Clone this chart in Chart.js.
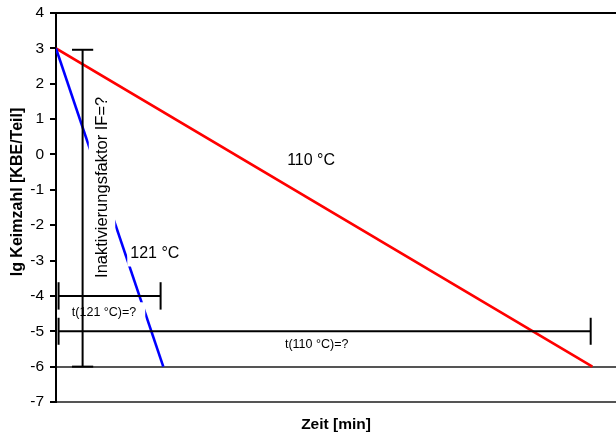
<!DOCTYPE html>
<html>
<head>
<meta charset="utf-8">
<script src="https://cdn.jsdelivr.net/npm/chart.js@4/dist/chart.umd.min.js"></script>
<style>
  html, body { margin: 0; padding: 0; background: #fff; }
  #wrap { width: 616px; height: 436px; }
</style>
</head>
<body>
<div id="wrap"><canvas id="c" width="616" height="436"></canvas></div>
<script>
// Inactivation curves: lg count vs. time
const zeit121 = [0, 10];
const lg121 = [3, -6];
const zeit110 = [0, 50];
const lg110 = [3, -6];

// Measuring bars: inactivation factor (vertical) and the two times (horizontal)
const ifZeit = 2.48;
const ifSpan = [2.96, -6];
const t121Span = [0.24, 9.75];
const t121Level = -4;
const t110Span = [0.24, 49.84];
const t110Level = -5;

// Axis range
const yMin = -7, yMax = 4;
const xMin = 0, xMax = 52.2;

// Text annotations (data coordinates)
const annoTexts = ['110 °C', '121 °C', 'Inaktivierungsfaktor IF=?', 't(121 °C)=?', 't(110 °C)=?'];
const annoX = [23.78, 9.21, 4.29, 4.48, 24.3];
const annoY = [-0.17, -2.80, -0.93, -4.47, -5.38];

const yTitle = 'lg Keimzahl [KBE/Teil]';

const FONT = "'Liberation Sans', Arial, sans-serif";
const annoStyle = [
  { size: 16, rot: 0, box: null },
  { size: 16, rot: 0, box: [3, 5] },
  { size: 16.5, rot: -Math.PI / 2, box: [5, 5] },
  { size: 12.5, rot: 0, box: [9, 4] },
  { size: 12.5, rot: 0, box: null }
];

const pts = (xs, ys) => xs.map((x, i) => ({ x, y: ys[i] }));

const annotations = {
  id: 'annotations',
  afterDatasetDraw(chart, args) {
    // white text boxes sit above the curves but below the measuring bars
    if (args.index !== 1) return;
    const { ctx, scales: { x, y } } = chart;
    ctx.save();
    ctx.beginPath();
    ctx.rect(chart.chartArea.left, chart.chartArea.top, chart.chartArea.width, chart.chartArea.height);
    ctx.clip();
    annoTexts.forEach((t, i) => {
      const st = annoStyle[i];
      if (!st.box) return;
      ctx.font = st.size + 'px ' + FONT;
      const w = ctx.measureText(t).width;
      const h = st.size;
      const px = x.getPixelForValue(annoX[i]);
      const py = y.getPixelForValue(annoY[i]);
      ctx.save();
      ctx.translate(px, py);
      ctx.rotate(st.rot);
      ctx.fillStyle = '#fff';
      ctx.fillRect(-w / 2 - st.box[0], -h / 2 - st.box[1], w + 2 * st.box[0], h + 2 * st.box[1]);
      ctx.restore();
    });
    ctx.restore();
  },
  afterDatasetsDraw(chart) {
    const { ctx, scales: { x, y } } = chart;
    ctx.save();
    ctx.textAlign = 'center';
    ctx.textBaseline = 'middle';
    ctx.fillStyle = '#000';
    annoTexts.forEach((t, i) => {
      const st = annoStyle[i];
      ctx.font = st.size + 'px ' + FONT;
      const px = x.getPixelForValue(annoX[i]);
      const py = y.getPixelForValue(annoY[i]);
      ctx.save();
      ctx.translate(px, py);
      ctx.rotate(st.rot);
      ctx.fillText(t, 0, 0);
      ctx.restore();
    });
    // value-axis title, placed beside the tick labels
    ctx.font = 'bold 16px ' + FONT;
    ctx.translate(17.5, 192);
    ctx.rotate(-Math.PI / 2);
    ctx.fillText(yTitle, 0, 0);
    ctx.restore();
  }
};

new Chart(document.getElementById('c'), {
  type: 'scatter',
  data: {
    datasets: [
      {
        label: '110 °C',
        data: pts(zeit110, lg110),
        showLine: true, borderColor: '#ff0000', borderWidth: 2.6,
        pointRadius: 0, order: 3
      },
      {
        label: '121 °C',
        data: pts(zeit121, lg121),
        showLine: true, borderColor: '#0000ff', borderWidth: 2.6,
        pointRadius: 0, order: 2
      },
      {
        label: 'IF',
        data: pts([ifZeit, ifZeit], ifSpan),
        showLine: true, borderColor: '#000', borderWidth: 2,
        pointStyle: 'line', rotation: 0, pointRadius: 10.6,
        pointBorderColor: '#000', pointBorderWidth: 2, order: 1
      },
      {
        label: 't121',
        data: pts(t121Span, [t121Level, t121Level]),
        showLine: true, borderColor: '#000', borderWidth: 2,
        pointStyle: 'line', rotation: 90, pointRadius: 13.7,
        pointBorderColor: '#000', pointBorderWidth: 2, order: 1
      },
      {
        label: 't110',
        data: pts(t110Span, [t110Level, t110Level]),
        showLine: true, borderColor: '#000', borderWidth: 2,
        pointStyle: 'line', rotation: 90, pointRadius: 13.5,
        pointBorderColor: '#000', pointBorderWidth: 2, order: 1
      }
    ]
  },
  options: {
    responsive: false,
    animation: false,
    devicePixelRatio: 1,
    layout: { autoPadding: false, padding: { top: 13, right: 0, bottom: 0, left: 0 } },
    plugins: { legend: { display: false }, tooltip: { enabled: false } },
    scales: {
      x: {
        type: 'linear', position: 'bottom',
        min: xMin, max: xMax,
        ticks: { display: false },
        grid: { display: false, drawTicks: false, tickLength: 0 },
        border: { display: true, color: '#555', width: 2 },
        title: {
          display: true, text: 'Zeit [min]', color: '#000',
          font: { family: FONT, size: 15.5, weight: 'bold' },
          padding: { top: 0, bottom: 1.7 }
        },
        afterFit(s) { s.height = 34; }
      },
      y: {
        type: 'linear', min: yMin, max: yMax,
        ticks: { stepSize: 1, color: '#000', padding: 6, font: { family: FONT, size: 15.5 } },
        grid: {
          color: (c) => c.tick.value === yMax ? '#000' :
            (c.tick.value === -6 || c.tick.value === yMin) ? '#555' : 'rgba(0,0,0,0)',
          lineWidth: 2,
          tickColor: '#000', tickLength: 6, tickWidth: 2
        },
        border: { display: true, color: '#000', width: 2 },
        title: { display: false },
        afterFit(s) { s.width = 56; s.paddingTop = 0; s.paddingBottom = 0; }
      }
    }
  },
  plugins: [annotations]
});
</script>
</body>
</html>
